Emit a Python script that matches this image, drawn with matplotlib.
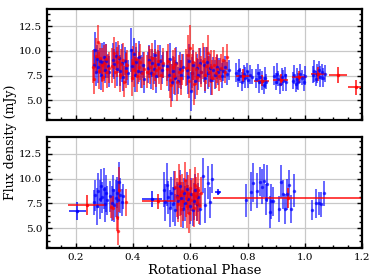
import matplotlib
matplotlib.use("Agg")
import matplotlib.pyplot as plt
from matplotlib.ticker import AutoMinorLocator, MultipleLocator

# ---- top panel, blue (individual scans)
top_blue_phase = [0.262, 0.266, 0.270, 0.274, 0.278, 0.283, 0.287, 0.292, 0.297, 0.302, 0.307, 0.312, 0.316,
                  0.330, 0.335, 0.340, 0.345, 0.350, 0.355, 0.360, 0.366, 0.371, 0.377, 0.382,
                  0.392, 0.397, 0.402, 0.407, 0.412, 0.417, 0.422, 0.428, 0.434, 0.439,
                  0.452, 0.457, 0.462, 0.467, 0.472, 0.477, 0.482, 0.488, 0.494, 0.500, 0.506,
                  0.520, 0.525, 0.530, 0.535, 0.541, 0.546, 0.551, 0.557, 0.563, 0.569, 0.574,
                  0.588, 0.593, 0.597, 0.601, 0.606, 0.611, 0.616, 0.622, 0.628, 0.634, 0.639,
                  0.648, 0.653, 0.658, 0.663, 0.668, 0.674, 0.680, 0.686, 0.692, 0.698, 0.704, 0.710,
                  0.716, 0.722, 0.728, 0.734,
                  0.760, 0.765, 0.770, 0.775, 0.781, 0.786, 0.792, 0.797, 0.803, 0.808, 0.814,
                  0.830, 0.835, 0.840, 0.845, 0.850, 0.856, 0.861, 0.866,
                  0.893, 0.898, 0.903, 0.908, 0.914, 0.919, 0.924, 0.930, 0.936,
                  0.958, 0.963, 0.968, 0.973, 0.978, 0.984, 0.990, 0.996, 1.001,
                  1.028, 1.033, 1.038, 1.043, 1.048, 1.054, 1.059, 1.064, 1.070]
top_blue_flux = [8.6, 10.1, 7.9, 9.2, 8.4, 9.0, 7.6, 8.9, 9.4, 8.1, 9.0, 8.5, 7.9,
                 9.1, 8.7, 9.5, 8.2, 9.3, 8.0, 8.8, 7.4, 9.0, 8.3, 7.8,
                 10.1, 8.5, 9.7, 7.6, 8.9, 8.0, 9.4, 7.9, 8.6, 7.2,
                 8.3, 9.1, 7.8, 8.8, 8.2, 9.6, 7.5, 8.7, 9.0, 8.1, 8.6,
                 8.5, 7.6, 9.2, 6.8, 8.0, 7.3, 8.8, 7.0, 8.2, 7.6, 8.4,
                 8.1, 7.4, 9.0, 5.9, 7.8, 8.6, 7.0, 8.3, 7.6, 8.8, 7.9,
                 8.6, 7.3, 8.9, 7.8, 8.3, 7.1, 8.1, 7.6, 8.4, 7.9, 8.2, 7.5,
                 8.0, 8.4, 7.7, 8.1,
                 7.8, 7.2, 8.1, 7.5, 6.9, 7.7, 7.3, 8.0, 7.1, 7.6, 7.4,
                 7.2, 7.8, 6.8, 7.4, 7.0, 6.5, 7.3, 6.9,
                 7.5, 6.9, 7.7, 7.2, 6.6, 7.4, 7.0, 7.6, 6.8,
                 7.0, 7.6, 6.6, 7.2, 6.9, 7.7, 7.3, 6.8, 7.5,
                 7.6, 8.0, 7.2, 7.7, 8.1, 7.4, 7.9, 7.3, 7.7]
top_blue_err = [1.6, 1.8, 1.5, 1.4, 1.7, 1.3, 1.6, 1.9, 1.5, 1.4, 1.7, 1.2, 1.6,
                1.7, 1.5, 1.4, 1.8, 1.3, 1.6, 1.9, 1.5, 1.4, 1.6, 1.3,
                2.2, 1.7, 1.6, 1.8, 1.5, 1.4, 1.6, 1.7, 1.3, 1.5,
                1.6, 1.5, 1.7, 1.4, 1.6, 1.5, 1.8, 1.4, 1.6, 1.5, 1.3,
                1.5, 1.7, 1.6, 1.9, 1.5, 1.8, 1.6, 1.4, 1.7, 1.5, 1.3,
                1.6, 1.8, 1.7, 2.0, 1.6, 1.5, 1.9, 1.4, 1.6, 1.5, 1.3,
                1.8, 1.6, 1.5, 1.7, 1.4, 1.6, 1.3, 1.5, 1.2, 1.4, 1.1, 1.3,
                1.0, 1.1, 1.2, 1.0,
                1.0, 0.9, 1.1, 0.8, 1.0, 0.9, 1.1, 0.8, 0.9, 1.0, 0.8,
                1.0, 0.9, 1.1, 0.8, 1.0, 0.9, 1.1, 0.8,
                1.0, 0.9, 1.1, 0.8, 1.0, 0.9, 1.1, 0.8, 0.9,
                0.9, 1.0, 0.8, 1.1, 0.9, 1.0, 0.8, 0.9, 1.0,
                0.9, 1.1, 0.8, 1.0, 0.9, 1.1, 0.8, 1.0, 0.9]

# ---- top panel, red (individual scans)
top_red_phase = [0.260, 0.265, 0.271, 0.276, 0.280, 0.285, 0.290, 0.295, 0.300, 0.305, 0.310, 0.315,
                 0.328, 0.333, 0.338, 0.343, 0.348, 0.353, 0.358, 0.364, 0.369, 0.375, 0.380,
                 0.395, 0.400, 0.405, 0.410, 0.415, 0.420, 0.426, 0.431, 0.437,
                 0.450, 0.455, 0.460, 0.465, 0.470, 0.476, 0.481, 0.486, 0.492, 0.498, 0.504,
                 0.518, 0.523, 0.528, 0.533, 0.538, 0.543, 0.548, 0.554, 0.560, 0.566, 0.572,
                 0.586, 0.591, 0.596, 0.600, 0.605, 0.610, 0.614, 0.619, 0.625, 0.631, 0.637,
                 0.646, 0.651, 0.656, 0.661, 0.666, 0.671, 0.677, 0.683, 0.689, 0.695, 0.701,
                 0.708, 0.715, 0.722, 0.728]
top_red_flux = [8.4, 7.2, 9.5, 10.9, 8.0, 9.3, 8.6, 7.4, 8.8, 9.2, 7.9, 8.3,
                8.5, 9.8, 7.9, 8.9, 9.4, 7.6, 8.7, 9.1, 6.9, 8.0, 8.6,
                7.3, 8.8, 8.1, 9.2, 7.5, 8.4, 8.9, 7.8, 8.2,
                7.9, 8.9, 8.4, 9.3, 7.7, 8.6, 8.1, 9.0, 8.3, 7.6, 8.8,
                8.2, 9.0, 7.1, 6.5, 8.4, 7.5, 8.7, 6.9, 7.9, 7.3, 8.1,
                8.3, 9.6, 7.0, 10.3, 7.8, 8.9, 6.6, 8.2, 7.4, 8.6, 7.9,
                9.0, 7.6, 8.5, 9.8, 7.9, 8.4, 7.3, 8.6, 7.8, 8.2, 7.5,
                8.3, 9.1, 7.9, 9.4]
top_red_err = [1.7, 1.6, 1.8, 1.7, 1.9, 1.5, 1.7, 1.6, 1.8, 1.5, 1.7, 1.6,
               1.8, 1.6, 1.7, 1.5, 1.6, 1.8, 1.5, 1.7, 1.6, 1.8, 1.5,
               1.9, 1.7, 1.8, 1.6, 1.7, 1.5, 1.8, 1.6, 1.7,
               1.7, 1.6, 1.8, 1.5, 1.7, 1.6, 1.8, 1.6, 1.7, 1.6, 1.5,
               1.8, 1.7, 1.9, 2.2, 1.7, 1.9, 1.6, 2.0, 1.7, 1.8, 1.6,
               1.9, 2.0, 1.8, 2.3, 1.9, 1.8, 2.1, 1.7, 1.9, 1.7, 1.6,
               1.8, 1.7, 1.9, 1.8, 1.6, 1.7, 1.8, 1.5, 1.6, 1.5, 1.6,
               1.4, 1.3, 1.2, 1.3]

# ---- top panel, red binned
top_bin_phase = [0.785, 0.850, 0.916, 0.980, 1.047, 1.115, 1.180]
top_bin_flux = [7.5, 7.0, 7.05, 7.35, 7.65, 7.55, 6.3]
top_bin_xerr = [0.026, 0.026, 0.026, 0.026, 0.026, 0.032, 0.030]
top_bin_yerr = [0.7, 0.6, 0.6, 0.6, 0.7, 0.8, 0.8]

# ---- bottom panel, blue (individual scans)
bot_blue_phase = [0.262, 0.268, 0.273, 0.278, 0.283, 0.288, 0.293, 0.297, 0.302, 0.306, 0.310,
                  0.320, 0.325, 0.330, 0.335, 0.339, 0.344, 0.348, 0.352, 0.356, 0.360, 0.366,
                  0.508, 0.513, 0.518, 0.523, 0.528, 0.533, 0.538, 0.543, 0.548, 0.553, 0.558,
                  0.563, 0.568, 0.573, 0.578, 0.583, 0.588, 0.593, 0.598, 0.603, 0.608, 0.613,
                  0.618, 0.623, 0.628, 0.633, 0.646, 0.652, 0.663, 0.668, 0.676,
                  0.793, 0.813, 0.819, 0.834, 0.842, 0.850, 0.857, 0.864, 0.869, 0.877, 0.883,
                  0.888, 0.910, 0.917, 0.924, 0.931, 0.937, 0.945, 0.953, 0.961,
                  1.025, 1.040, 1.048, 1.055, 1.067]
bot_blue_flux = [7.6, 8.3, 7.2, 8.8, 7.9, 9.3, 8.1, 9.0, 7.4, 8.5, 7.8,
                 8.2, 7.5, 8.9, 7.3, 8.0, 8.6, 7.8, 9.7, 8.3, 7.6, 8.2,
                 8.9, 7.6, 9.4, 8.1, 7.0, 8.6, 7.4, 9.1, 6.8, 8.2, 7.7,
                 9.3, 8.0, 6.9, 8.5, 7.5, 9.0, 7.9, 7.2, 8.4, 6.8, 7.7,
                 8.9, 7.4, 8.1, 6.9, 10.3, 7.3, 9.6, 7.6, 10.0,
                 7.8, 8.7, 9.6, 8.8, 9.7, 9.2, 9.8, 7.9, 9.5, 6.6, 7.7,
                 7.7, 6.95, 9.7, 8.4, 6.9, 8.4, 9.4, 6.9, 8.8,
                 6.8, 7.5, 7.5, 7.4, 8.5]
bot_blue_err = [1.3, 1.6, 1.9, 1.8, 2.0, 1.7, 1.6, 2.1, 1.8, 1.9, 1.5,
                1.6, 1.8, 1.5, 1.7, 1.9, 1.6, 2.0, 2.0, 1.8, 1.4, 1.3,
                1.8, 1.9, 2.2, 1.7, 1.9, 1.6, 1.8, 1.7, 1.6, 1.5, 1.8,
                1.6, 1.7, 1.9, 1.6, 1.8, 1.7, 1.5, 1.8, 1.7, 1.6, 1.9,
                1.6, 1.7, 1.5, 1.6, 1.8, 1.8, 1.7, 1.6, 1.5,
                1.7, 2.0, 2.0, 1.8, 1.5, 1.8, 1.7, 1.6, 1.9, 1.6, 1.8,
                1.5, 1.3, 1.7, 1.5, 1.5, 1.6, 1.5, 1.4, 1.7,
                1.0, 1.5, 1.2, 1.3, 1.3]

# ---- bottom panel, red (individual scans)
bot_red_phase = [0.322, 0.330, 0.343, 0.348, 0.352, 0.374,
                 0.548, 0.552, 0.556, 0.560, 0.564, 0.568, 0.572, 0.576, 0.580, 0.584, 0.588,
                 0.592, 0.596, 0.600, 0.604, 0.608, 0.612, 0.616, 0.620, 0.624, 0.628, 0.632, 0.636]
bot_red_flux = [7.1, 7.0, 6.1, 4.7, 8.9, 7.6,
                9.2, 8.1, 7.4, 9.6, 8.3, 6.9, 8.8, 7.7, 9.9, 8.0, 7.2,
                8.6, 6.5, 9.1, 7.8, 8.4, 7.0, 9.4, 8.2, 7.5, 8.9, 7.3, 8.6]
bot_red_err = [1.1, 1.2, 1.4, 1.4, 2.3, 1.4,
               1.6, 2.0, 1.8, 1.9, 2.1, 1.8, 1.7, 2.0, 1.8, 1.9, 2.2,
               1.8, 2.0, 1.9, 2.1, 1.7, 1.9, 1.8, 2.0, 1.8, 1.7, 1.9, 1.6]

# ---- bottom panel, binned
bot_bin_blue_phase = [0.206, 0.466, 0.697]
bot_bin_blue_flux = [6.7, 7.95, 8.65]
bot_bin_blue_xerr = [0.030, 0.035, 0.012]
bot_bin_blue_yerr = [0.9, 0.85, 0.3]
bot_bin_red_phase = [0.239, 0.488, 0.940]
bot_bin_red_flux = [7.35, 7.72, 8.06]
bot_bin_red_xerr = [0.066, 0.055, 0.26]
bot_bin_red_yerr = [1.0, 0.75, 1.0]

plt.rcParams['font.family'] = 'DejaVu Serif'

fig = plt.figure(figsize=(3.74, 2.8), dpi=100)
ax1 = fig.add_axes([0.126, 0.571, 0.842, 0.396])
ax2 = fig.add_axes([0.126, 0.113, 0.842, 0.399])

blue = (0.0, 0.0, 1.0)
red = (1.0, 0.0, 0.0)
kw = dict(fmt='.', ms=3, elinewidth=1.4, capsize=0, alpha=0.6)
kw_bin = dict(fmt='.', ms=3, elinewidth=1.3, capsize=0, alpha=0.8)

ax1.errorbar(top_blue_phase, top_blue_flux, yerr=top_blue_err, color=blue, **kw)
ax1.errorbar(top_red_phase, top_red_flux, yerr=top_red_err, color=red, **kw)
ax1.errorbar(top_bin_phase, top_bin_flux, xerr=top_bin_xerr, yerr=top_bin_yerr,
             color=red, **kw_bin)

ax2.errorbar(bot_blue_phase, bot_blue_flux, yerr=bot_blue_err, color=blue, **kw)
ax2.errorbar(bot_red_phase, bot_red_flux, yerr=bot_red_err, color=red, **kw)
ax2.errorbar(bot_bin_blue_phase, bot_bin_blue_flux, xerr=bot_bin_blue_xerr, yerr=bot_bin_blue_yerr,
             color=blue, **kw_bin)
ax2.errorbar(bot_bin_red_phase, bot_bin_red_flux, xerr=bot_bin_red_xerr, yerr=bot_bin_red_yerr,
             color=red, **kw_bin)

for ax in (ax1, ax2):
    ax.set_xlim(0.1, 1.2)
    ax.set_ylim(3.0, 14.2)
    ax.xaxis.set_major_locator(MultipleLocator(0.2))
    ax.xaxis.set_minor_locator(AutoMinorLocator(4))
    ax.yaxis.set_major_locator(MultipleLocator(2.5))
    ax.yaxis.set_minor_locator(AutoMinorLocator(4))
    ax.grid(True, color='#c8c8c8', linewidth=0.9)
    ax.set_axisbelow(True)
    ax.tick_params(which='both', direction='in', left=True, right=True, bottom=True, top=False,
                   labelsize=7.5, width=1.0)
    ax.tick_params(which='major', length=3.5)
    ax.tick_params(which='minor', length=2)
    for s in ax.spines.values():
        s.set_linewidth(1.6)
    ax.yaxis.set_major_formatter(matplotlib.ticker.FormatStrFormatter('%.1f'))

ax1.tick_params(labelbottom=False)
ax2.set_xlabel("Rotational Phase", fontsize=9.5, labelpad=1)
fig.text(0.028, 0.49, "Flux density (mJy)", rotation=90, va='center', ha='center', fontsize=9)

fig.savefig("out.png", dpi=100)
plt.close(fig)
